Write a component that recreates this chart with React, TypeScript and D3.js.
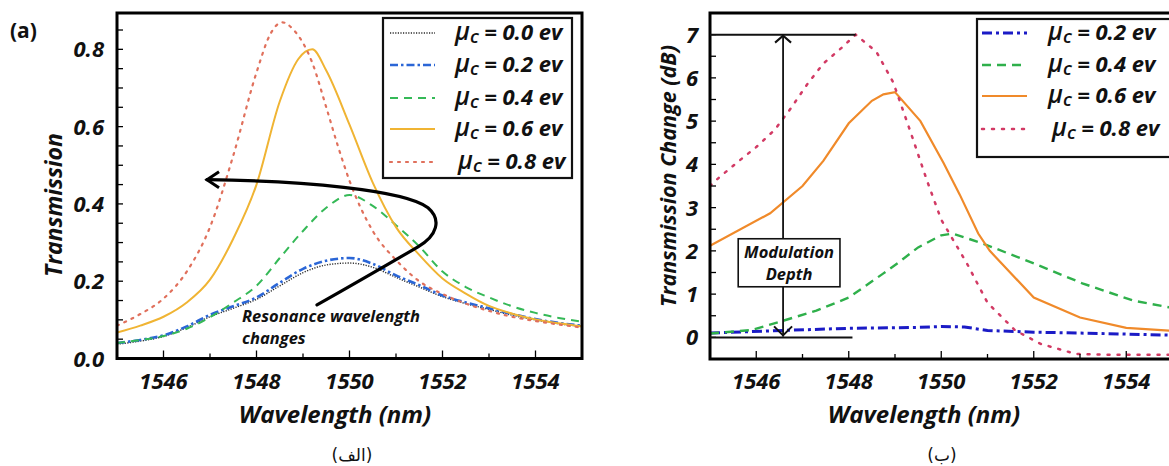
import React from 'react';
import * as d3 from 'd3';

const FONT = "'Open Sans', 'DejaVu Sans', sans-serif";

// ---------- Panel (a): transmission vs wavelength ----------
const wavelengthTicks = [1546, 1548, 1550, 1552, 1554];
const transTickLabels = [0, 0.2, 0.4, 0.6, 0.8];

const transMu00: [number, number][] = [
  [1545, 0.037], [1545.5, 0.045], [1546, 0.057], [1546.5, 0.08], [1547, 0.108], [1547.5, 0.13],
  [1548, 0.153], [1548.5, 0.188], [1549, 0.222], [1549.5, 0.242], [1550, 0.247], [1550.5, 0.236],
  [1551, 0.21], [1551.5, 0.185], [1552, 0.16], [1552.5, 0.142], [1553, 0.127], [1553.5, 0.112],
  [1554, 0.1], [1554.5, 0.09], [1555, 0.083],
];
const transMu02: [number, number][] = [
  [1545, 0.04], [1545.5, 0.048], [1546, 0.06], [1546.5, 0.083], [1547, 0.113], [1547.5, 0.135],
  [1548, 0.158], [1548.5, 0.196], [1549, 0.232], [1549.5, 0.253], [1550, 0.26], [1550.5, 0.245],
  [1551, 0.215], [1551.5, 0.19], [1552, 0.163], [1552.5, 0.145], [1553, 0.13], [1553.5, 0.115],
  [1554, 0.102], [1554.5, 0.092], [1555, 0.085],
];
const transMu04: [number, number][] = [
  [1545, 0.04], [1545.5, 0.048], [1546, 0.058], [1546.5, 0.077], [1547, 0.107], [1547.5, 0.145],
  [1548, 0.188], [1548.5, 0.26], [1549, 0.33], [1549.5, 0.39], [1550, 0.423], [1550.5, 0.395],
  [1551, 0.345], [1551.5, 0.29], [1552, 0.225], [1552.5, 0.185], [1553, 0.158], [1553.5, 0.135],
  [1554, 0.118], [1554.5, 0.105], [1555, 0.095],
];
const transMu06: [number, number][] = [
  [1545, 0.067], [1545.5, 0.085], [1546, 0.108], [1546.5, 0.145], [1547, 0.204], [1547.5, 0.31],
  [1548, 0.45], [1548.5, 0.665], [1548.9, 0.775], [1549.2, 0.8], [1549.5, 0.745], [1550, 0.605],
  [1550.5, 0.455], [1551, 0.34], [1551.5, 0.268], [1552, 0.207], [1552.5, 0.168], [1553, 0.136],
  [1553.5, 0.116], [1554, 0.101], [1554.5, 0.091], [1555, 0.083],
];
const transMu08: [number, number][] = [
  [1545, 0.085], [1545.5, 0.115], [1546, 0.155], [1546.5, 0.225], [1547, 0.34], [1547.5, 0.525],
  [1548, 0.74], [1548.3, 0.84], [1548.55, 0.87], [1548.8, 0.85], [1549.2, 0.765], [1549.5, 0.65],
  [1549.75, 0.55], [1550, 0.46], [1550.5, 0.33], [1551, 0.255], [1551.5, 0.2], [1552, 0.167],
  [1552.5, 0.142], [1553, 0.123], [1553.5, 0.108], [1554, 0.097], [1554.5, 0.088], [1555, 0.08],
];

// ---------- Panel (b): transmission change vs wavelength ----------
const changeTickLabels = [0, 1, 2, 3, 4, 5, 6, 7];

const changeMu02: [number, number][] = [
  [1545, 0.1], [1546.6, 0.16], [1548, 0.21], [1549.5, 0.23], [1550, 0.25], [1550.5, 0.24],
  [1551, 0.16], [1552, 0.12], [1553.4, 0.09], [1555, 0.05],
];
const changeMu04: [number, number][] = [
  [1545, 0.09], [1545.9, 0.17], [1546.6, 0.39], [1547.3, 0.62], [1548, 0.92], [1548.75, 1.48],
  [1549.1, 1.75], [1549.5, 2.08], [1550, 2.36], [1550.25, 2.4], [1550.9, 2.17], [1552, 1.71],
  [1553.05, 1.25], [1554.15, 0.85], [1555, 0.68],
];
const changeMu06: [number, number][] = [
  [1545, 2.12], [1546.3, 2.87], [1547, 3.5], [1547.45, 4.08], [1548, 4.95], [1548.5, 5.47],
  [1548.75, 5.62], [1549, 5.67], [1549.55, 5.0], [1550.05, 4.03], [1550.4, 3.3], [1550.8, 2.4],
  [1551.05, 2.0], [1552, 0.92], [1553, 0.46], [1554, 0.22], [1555, 0.15],
];
const changeMu08: [number, number][] = [
  [1545, 3.5], [1545.2, 3.7], [1545.65, 4.1], [1546, 4.4], [1546.4, 4.8], [1546.75, 5.3],
  [1547.1, 5.85], [1547.45, 6.33], [1547.85, 6.7], [1548.15, 7.0], [1548.6, 6.6], [1548.96, 5.9],
  [1549.32, 4.8], [1549.69, 3.63], [1550, 2.72], [1550.55, 1.72], [1551, 0.8], [1551.6, 0.16],
  [1552.15, -0.15], [1552.9, -0.38], [1553.5, -0.4], [1555, -0.4],
];

// Modulation depth = peak of the 0.8 eV curve above the 0 dB baseline
const depthTop = 7;
const depthBottom = 0;

type Style = { color: string; dash: string; width: number };

const seriesA: { mu: string; data: [number, number][]; style: Style }[] = [
  { mu: '0.0', data: transMu00, style: { color: '#2a2a2a', dash: '1.2,1.4', width: 1.4 } },
  { mu: '0.2', data: transMu02, style: { color: '#2b66d6', dash: '8,3,2.5,3', width: 2.6 } },
  { mu: '0.4', data: transMu04, style: { color: '#35b957', dash: '8,6', width: 2 } },
  { mu: '0.6', data: transMu06, style: { color: '#f0b433', dash: '', width: 2 } },
  { mu: '0.8', data: transMu08, style: { color: '#e0705c', dash: '2,6', width: 2.2 } },
];

const seriesB: { mu: string; data: [number, number][]; style: Style }[] = [
  { mu: '0.2', data: changeMu02, style: { color: '#1b1bc6', dash: '10,4,3,4', width: 3 } },
  { mu: '0.4', data: changeMu04, style: { color: '#2fb04b', dash: '9,6', width: 2.4 } },
  { mu: '0.6', data: changeMu06, style: { color: '#f08a2a', dash: '', width: 2.2 } },
  { mu: '0.8', data: changeMu08, style: { color: '#d23a64', dash: '2,8', width: 2.5 } },
];

const W = 1169;
const H = 466;

const xA = d3.scaleLinear().domain([1545, 1555]).range([117, 582]);
const yA = d3.scaleLinear().domain([0, 0.894]).range([358.5, 13]);
const xB = d3.scaleLinear().domain([1545, 1555]).range([710, 1172.5]);
const yB = d3.scaleLinear().domain([-0.5, 7.5]).range([359, 13]);

const lineA = d3
  .line<[number, number]>()
  .x((d) => xA(d[0]))
  .y((d) => yA(d[1]))
  .curve(d3.curveMonotoneX);
const lineB = d3
  .line<[number, number]>()
  .x((d) => xB(d[0]))
  .y((d) => yB(d[1]))
  .curve(d3.curveLinear);

function LegendLabel({ x, y, mu }: { x: number; y: number; mu: string }) {
  return (
    <text x={x} y={y} fontFamily={FONT} fontStyle="italic" fontWeight={700} fill="#111">
      <tspan fontSize={25} fontWeight={600}>μ</tspan>
      <tspan fontSize={14} dy={3}>C</tspan>
      <tspan fontSize={22} dy={-3}>{` = ${mu} ev`}</tspan>
    </text>
  );
}

function Frame({ x0, x1, y0, y1 }: { x0: number; x1: number; y0: number; y1: number }) {
  return <rect x={x0} y={y0} width={x1 - x0} height={y1 - y0} fill="none" stroke="#000" strokeWidth={3} />;
}

const tickFont = { fontFamily: FONT, fontStyle: 'italic', fontWeight: 700, fontSize: 22, fill: '#111' } as const;

export default function App() {
  const [ax0, ax1] = xA.range();
  const [ay0, ay1] = [yA.range()[1], yA.range()[0]];
  const [bx0, bx1] = xB.range();
  const [by0, by1] = [yB.range()[1], yB.range()[0]];

  const xMinorTicks = d3.range(1545, 1556, 1);
  const yMinorA = d3.range(0, 0.891, 0.05);
  const yMinorB = d3.range(-0.5, 7.51, 0.5);

  // curved arrow indicating the resonance shift (panel a)
  const arrowPts = {
    tip: [1546.935, 0.4626],
    c1: [1548.935, 0.46],
    c2: [1551.194, 0.4367],
    p1: [1551.688, 0.3901],
    c3: [1551.989, 0.359],
    c4: [1551.882, 0.3175],
    p2: [1551.473, 0.289],
    q: [1550.441, 0.2164],
    end: [1549.301, 0.1386],
    arm: 0.0207,
    armX: 1547.194,
  };
  const P = (p: number[]) => `${xA(p[0])},${yA(p[1])}`;
  const arrowPath = `M${P(arrowPts.tip)} C${P(arrowPts.c1)} ${P(arrowPts.c2)} ${P(arrowPts.p1)} C${P(
    arrowPts.c3
  )} ${P(arrowPts.c4)} ${P(arrowPts.p2)} Q${P(arrowPts.q)} ${P(arrowPts.end)}`;
  const arrowHead = `M${xA(arrowPts.armX)},${yA(arrowPts.tip[1] + arrowPts.arm)} L${P(arrowPts.tip)} L${xA(
    arrowPts.armX
  )},${yA(arrowPts.tip[1] - arrowPts.arm)}`;

  // modulation depth marker (panel b)
  const depthX = xB(1546.58);
  const topY = yB(depthTop);
  const botY = yB(depthBottom);
  const boxX0 = xB(1545.61);
  const boxX1 = xB(1547.81);

  return (
    <svg
      width={W}
      height={H}
      viewBox={`0 0 ${W} ${H}`}
      style={{ position: 'absolute', left: 0, top: 0, background: '#fff' }}
    >
      <defs>
        <clipPath id="clipA">
          <rect x={ax0} y={ay0} width={ax1 - ax0} height={ay1 - ay0} />
        </clipPath>
        <clipPath id="clipB">
          <rect x={bx0} y={by0} width={bx1 - bx0} height={by1 - by0} />
        </clipPath>
      </defs>
      <rect x={0} y={0} width={W} height={H} fill="#fff" />

      {/* ================= Panel (a) ================= */}
      <text x={10} y={38} fontFamily={FONT} fontWeight={700} fontSize={21} fill="#111">
        (a)
      </text>

      <g clipPath="url(#clipA)">
        {seriesA.map((s) => (
          <path
            key={s.mu}
            d={lineA(s.data) || ''}
            fill="none"
            stroke={s.style.color}
            strokeWidth={s.style.width}
            strokeDasharray={s.style.dash || undefined}
            strokeLinecap={s.style.dash === '2,6' ? 'round' : 'butt'}
          />
        ))}
      </g>

      {/* ticks */}
      {xMinorTicks.map((t) => (
        <line
          key={`xa${t}`}
          x1={xA(t)}
          x2={xA(t)}
          y1={ay1}
          y2={ay1 - (t % 2 === 0 ? 8 : 5)}
          stroke="#000"
          strokeWidth={1.3}
        />
      ))}
      {yMinorA.map((t, i) => (
        <line
          key={`ya${i}`}
          x1={ax0}
          x2={ax0 + 6}
          y1={yA(t)}
          y2={yA(t)}
          stroke="#000"
          strokeWidth={1.3}
        />
      ))}
      <Frame x0={ax0} x1={ax1} y0={ay0} y1={ay1} />

      {wavelengthTicks.map((t) => (
        <text key={`xla${t}`} x={xA(t)} y={389} textAnchor="middle" {...tickFont}>
          {t}
        </text>
      ))}
      {transTickLabels.map((t) => (
        <text key={`yla${t}`} x={104} y={yA(t) + 8} textAnchor="end" {...tickFont}>
          {d3.format('.1f')(t)}
        </text>
      ))}
      <text
        transform={`translate(62,205) rotate(-90)`}
        textAnchor="middle"
        fontFamily={FONT}
        fontStyle="italic"
        fontWeight={700}
        fontSize={23}
        fill="#111"
      >
        Transmission
      </text>
      <text
        x={335}
        y={423}
        textAnchor="middle"
        fontFamily={FONT}
        fontStyle="italic"
        fontWeight={700}
        fontSize={24}
        fill="#111"
      >
        Wavelength (nm)
      </text>

      {/* resonance-shift arrow */}
      <path d={arrowPath} fill="none" stroke="#000" strokeWidth={3.2} strokeLinecap="round" />
      <path d={arrowHead} fill="none" stroke="#000" strokeWidth={3} strokeLinejoin="miter" />
      <text x={242} y={322} fontFamily={FONT} fontStyle="italic" fontWeight={700} fontSize={16.5} fill="#111">
        Resonance wavelength
      </text>
      <text x={242} y={344} fontFamily={FONT} fontStyle="italic" fontWeight={700} fontSize={16.5} fill="#111">
        changes
      </text>

      {/* legend (a) */}
      <rect x={383} y={18} width={189} height={160} fill="#fff" stroke="#111" strokeWidth={2.2} />
      {seriesA.map((s, i) => {
        const cy = [33, 65, 98, 129, 162][i];
        return (
          <g key={`lga${s.mu}`}>
            <line
              x1={390}
              x2={435}
              y1={cy}
              y2={cy}
              stroke={s.style.color}
              strokeWidth={s.style.width}
              strokeDasharray={s.style.dash || undefined}
              strokeLinecap={s.style.dash === '2,6' ? 'round' : 'butt'}
            />
            <LegendLabel x={i === 4 ? 458 : 455} y={cy + 7} mu={s.mu} />
          </g>
        );
      })}

      <text x={352} y={461} textAnchor="middle" fontFamily="'DejaVu Sans', 'Noto Sans', sans-serif" fontSize={17} fill="#111">
        (الف)
      </text>

      {/* ================= Panel (b) ================= */}
      <g clipPath="url(#clipB)">
        {seriesB.map((s) => (
          <path
            key={s.mu}
            d={lineB(s.data) || ''}
            fill="none"
            stroke={s.style.color}
            strokeWidth={s.style.width}
            strokeDasharray={s.style.dash || undefined}
            strokeLinecap={s.style.dash === '2,8' ? 'round' : 'butt'}
          />
        ))}
      </g>

      {xMinorTicks.map((t) => (
        <line
          key={`xb${t}`}
          x1={xB(t)}
          x2={xB(t)}
          y1={by1}
          y2={by1 - (t % 2 === 0 ? 8 : 5)}
          stroke="#000"
          strokeWidth={1.3}
        />
      ))}
      {yMinorB.map((t, i) => (
        <line
          key={`yb${i}`}
          x1={bx0}
          x2={bx0 + 6}
          y1={yB(t)}
          y2={yB(t)}
          stroke="#000"
          strokeWidth={1.3}
        />
      ))}
      <Frame x0={bx0} x1={bx1} y0={by0} y1={by1} />

      {wavelengthTicks.map((t) => (
        <text key={`xlb${t}`} x={xB(t)} y={389} textAnchor="middle" {...tickFont}>
          {t}
        </text>
      ))}
      {changeTickLabels.map((t) => (
        <text key={`ylb${t}`} x={698} y={yB(t) + 8} textAnchor="end" {...tickFont}>
          {t}
        </text>
      ))}
      <text
        transform={`translate(676,176) rotate(-90)`}
        textAnchor="middle"
        fontFamily={FONT}
        fontStyle="italic"
        fontWeight={700}
        fontSize={21.5}
        fill="#111"
      >
        Transmission Change (dB)
      </text>
      <text
        x={924}
        y={423}
        textAnchor="middle"
        fontFamily={FONT}
        fontStyle="italic"
        fontWeight={700}
        fontSize={24}
        fill="#111"
      >
        Wavelength (nm)
      </text>

      {/* modulation depth marker */}
      <line x1={bx0} x2={xB(1548.15)} y1={topY} y2={topY} stroke="#111" strokeWidth={2} />
      <line x1={bx0} x2={xB(1548.08)} y1={botY} y2={botY} stroke="#111" strokeWidth={2} />
      <line x1={depthX} x2={depthX} y1={topY + 1} y2={botY - 1} stroke="#111" strokeWidth={1.8} />
      <path
        d={`M${depthX - 8},${topY + 8} L${depthX},${topY + 1} L${depthX + 8},${topY + 8}`}
        fill="none"
        stroke="#111"
        strokeWidth={2}
      />
      <path
        d={`M${depthX - 9},${botY - 11} L${depthX},${botY - 2} L${depthX + 9},${botY - 11}`}
        fill="none"
        stroke="#111"
        strokeWidth={2}
      />
      <rect
        x={boxX0}
        y={yB(2.28)}
        width={boxX1 - boxX0}
        height={yB(1.17) - yB(2.28)}
        fill="#fff"
        stroke="#111"
        strokeWidth={1.6}
      />
      <text
        x={(boxX0 + boxX1) / 2}
        y={yB(1.72) - 5}
        textAnchor="middle"
        fontFamily={FONT}
        fontStyle="italic"
        fontWeight={700}
        fontSize={16.5}
        fill="#111"
      >
        Modulation
      </text>
      <text
        x={(boxX0 + boxX1) / 2}
        y={yB(1.72) + 17}
        textAnchor="middle"
        fontFamily={FONT}
        fontStyle="italic"
        fontWeight={700}
        fontSize={16.5}
        fill="#111"
      >
        Depth
      </text>

      {/* legend (b) */}
      <rect x={977} y={19} width={210} height={138} fill="#fff" stroke="#111" strokeWidth={2.2} />
      {seriesB.map((s, i) => {
        const cy = [33, 65, 96, 129][i];
        return (
          <g key={`lgb${s.mu}`}>
            <line
              x1={982}
              x2={1027}
              y1={cy}
              y2={cy}
              stroke={s.style.color}
              strokeWidth={s.style.width}
              strokeDasharray={s.style.dash || undefined}
              strokeLinecap={s.style.dash === '2,8' ? 'round' : 'butt'}
            />
            <LegendLabel x={i === 3 ? 1052 : 1048} y={cy + 7} mu={s.mu} />
          </g>
        );
      })}

      <text x={942} y={461} textAnchor="middle" fontFamily="'DejaVu Sans', 'Noto Sans', sans-serif" fontSize={17} fill="#111">
        (ب)
      </text>
    </svg>
  );
}
